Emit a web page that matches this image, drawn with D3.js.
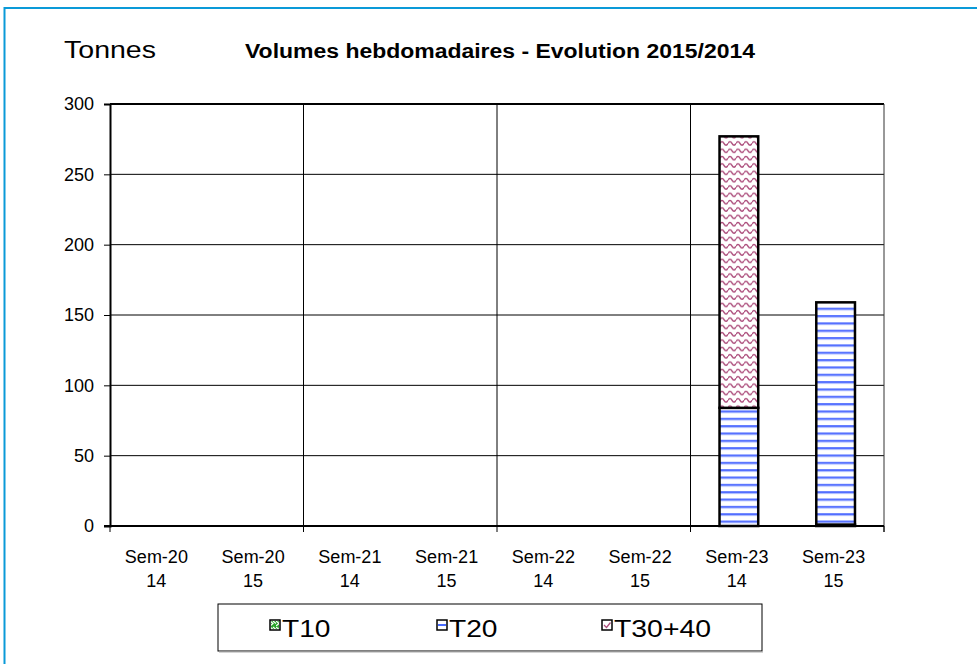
<!DOCTYPE html>
<html lang="fr">
<head>
<meta charset="UTF-8">
<title>Volumes hebdomadaires</title>
<style>
    body { margin: 0; background: #fff; }
    text { font-family: "Liberation Sans", Arial, sans-serif; fill: #000; }
</style>
</head>
<body>
<svg id="chart"></svg>
<script src="https://cdnjs.cloudflare.com/ajax/libs/d3/7.8.5/d3.min.js"></script>
<script>
    var width = 977;
    var height = 664;

    // data
    var weeks = ["Sem-20", "Sem-20", "Sem-21", "Sem-21", "Sem-22", "Sem-22", "Sem-23", "Sem-23"];
    var years = ["14", "15", "14", "15", "14", "15", "14", "15"];
    var seriesNames = ["T10", "T20", "T30+40"];
    var t10 = [0, 0, 0, 0, 0, 0, 0, 1];
    var t20 = [0, 0, 0, 0, 0, 0, 84, 158];
    var t30 = [0, 0, 0, 0, 0, 0, 193, 0];
    var yTicks = [0, 50, 100, 150, 200, 250, 300];

    var plot = {left: 110, right: 884, top: 104, bottom: 526};

    var svg = d3.select("#chart")
        .attr("width", width)
        .attr("height", height);

    // fill patterns
    var defs = svg.append("defs");
    var p10 = defs.append("pattern").attr("id", "pT10")
        .attr("patternUnits", "userSpaceOnUse").attr("width", 6).attr("height", 6);
    p10.append("rect").attr("width", 6).attr("height", 6).attr("fill", "#2aa52a");
    p10.append("path").attr("d", "M0,1 L3,3.5 L0,6 M3,1 L6,3.5")
        .attr("stroke", "#fff").attr("stroke-width", 1.2).attr("fill", "none");

    var p20 = defs.append("pattern").attr("id", "pT20")
        .attr("patternUnits", "userSpaceOnUse").attr("width", 4).attr("height", 7.34)
        .attr("y", plot.bottom);
    p20.append("rect").attr("width", 4).attr("height", 7.34).attr("fill", "#fff");
    p20.append("rect").attr("y", 2).attr("width", 4).attr("height", 1.6).attr("fill", "#3d5cff");
    p20.append("rect").attr("y", 3.6).attr("width", 4).attr("height", 1.1).attr("fill", "#a9b9ff");

    var p30 = defs.append("pattern").attr("id", "pT30")
        .attr("patternUnits", "userSpaceOnUse").attr("width", 8).attr("height", 7.34);
    p30.append("rect").attr("width", 8).attr("height", 7.34).attr("fill", "#fff");
    p30.append("path").attr("d", "M0,4 Q2,0.5 4,4 T8,4")
        .attr("stroke", "#ad4f7d").attr("stroke-width", 1.5).attr("fill", "none");

    var fills = {"T10": "url(#pT10)", "T20": "url(#pT20)", "T30+40": "url(#pT30)"};

    // outer blue frame
    svg.append("line").attr("x1", 4).attr("x2", width).attr("y1", 8).attr("y2", 8)
        .attr("stroke", "#0a9ad8").attr("stroke-width", 2);
    svg.append("line").attr("x1", 4.5).attr("x2", 4.5).attr("y1", 7).attr("y2", height)
        .attr("stroke", "#0a9ad8").attr("stroke-width", 2);

    // scales
    var x = d3.scaleBand()
        .domain(d3.range(weeks.length))
        .range([plot.left, plot.right])
        .paddingInner(0)
        .paddingOuter(0);
    var y = d3.scaleLinear()
        .domain([0, 300])
        .range([plot.bottom, plot.top]);

    // horizontal gridlines
    svg.append("g")
        .selectAll("line")
        .data(yTicks)
        .join("line")
        .attr("x1", plot.left).attr("x2", plot.right)
        .attr("y1", function(d) { return y(d); })
        .attr("y2", function(d) { return y(d); })
        .attr("stroke", "#000")
        .attr("stroke-width", function(d) { return d === 300 ? 2 : 1; });

    // vertical gridlines between week groups
    var groupEdges = [0, 2, 4, 6];
    svg.append("g")
        .selectAll("line")
        .data(groupEdges.slice(1))
        .join("line")
        .attr("x1", function(d) { return x(d); })
        .attr("x2", function(d) { return x(d); })
        .attr("y1", plot.top).attr("y2", plot.bottom)
        .attr("stroke", "#000").attr("stroke-width", 1);
    svg.append("line")
        .attr("x1", plot.right).attr("x2", plot.right)
        .attr("y1", plot.top).attr("y2", plot.bottom + 6)
        .attr("stroke", "#333").attr("stroke-width", 1);

    // stacked bars
    var rows = weeks.map(function(w, i) {
        return {i: i, "T10": t10[i], "T20": t20[i], "T30+40": t30[i]};
    });
    var stack = d3.stack().keys(seriesNames)(rows);
    var barW = x.bandwidth() * 0.4;

    svg.append("g")
        .selectAll("g")
        .data(stack)
        .join("g")
        .attr("fill", function(s) { return fills[s.key]; })
        .selectAll("rect")
        .data(function(s) { return s.filter(function(d) { return d[1] > d[0]; }); })
        .join("rect")
        .attr("x", function(d) { return x(d.data.i) + (x.bandwidth() - barW) / 2; })
        .attr("width", barW)
        .attr("y", function(d) { return y(d[1]); })
        .attr("height", function(d) { return y(d[0]) - y(d[1]); })
        .attr("stroke", "#000")
        .attr("stroke-width", 2.5);

    // y axis
    var yAxis = svg.append("g")
        .attr("transform", "translate(" + plot.left + ",0)")
        .call(d3.axisLeft(y).tickValues(yTicks).tickSize(6).tickPadding(10));
    yAxis.select(".domain").attr("stroke", "#000").attr("stroke-width", 2);
    yAxis.selectAll(".tick line").attr("stroke", "#000");
    yAxis.selectAll(".tick text")
        .style("font-family", "'Liberation Sans', Arial, sans-serif")
        .style("font-size", "18px").attr("fill", "#000");

    // x axis line and ticks at group edges
    svg.append("line")
        .attr("x1", plot.left - 6).attr("x2", plot.right)
        .attr("y1", plot.bottom).attr("y2", plot.bottom)
        .attr("stroke", "#000").attr("stroke-width", 2);
    svg.append("g")
        .selectAll("line")
        .data(groupEdges.concat([8]))
        .join("line")
        .attr("x1", function(d) { return d === 8 ? plot.right : x(d); })
        .attr("x2", function(d) { return d === 8 ? plot.right : x(d); })
        .attr("y1", plot.bottom).attr("y2", plot.bottom + 6)
        .attr("stroke", "#000").attr("stroke-width", 1);

    // category labels on two lines
    var xl = svg.append("g")
        .selectAll("text")
        .data(weeks)
        .join("text")
        .attr("text-anchor", "middle")
        .style("font-size", "18px")
        .attr("transform", function(d, i) {
            return "translate(" + (x(i) + x.bandwidth() / 2 - 2) + ",0)";
        });
    xl.append("tspan").attr("x", 0).attr("y", 563).text(function(d) { return d; });
    xl.append("tspan").attr("x", 0).attr("y", 587).text(function(d, i) { return years[i]; });

    // titles (the original text is drawn a little wide)
    svg.append("text")
        .attr("x", 64).attr("y", 58)
        .style("font-size", "23px")
        .attr("textLength", 92)
        .attr("lengthAdjust", "spacingAndGlyphs")
        .text("Tonnes");
    svg.append("text")
        .attr("x", 245).attr("y", 58)
        .style("font-size", "20px")
        .style("font-weight", "bold")
        .attr("textLength", 510)
        .attr("lengthAdjust", "spacingAndGlyphs")
        .text("Volumes hebdomadaires - Evolution 2015/2014");

    // legend
    var lg = svg.append("g");
    lg.append("rect")
        .attr("x", 218).attr("y", 604).attr("width", 544).attr("height", 47)
        .attr("fill", "#fff").attr("stroke", "#000").attr("stroke-width", 1);
    lg.append("line")
        .attr("x1", 219).attr("x2", 763).attr("y1", 652).attr("y2", 652)
        .attr("stroke", "#aaa").attr("stroke-width", 1);
    var legX = [270, 437, 602];
    var items = lg.selectAll("g.item")
        .data(seriesNames)
        .join("g")
        .attr("class", "item")
        .attr("transform", function(d, i) { return "translate(" + legX[i] + ",620)"; });
    items.append("rect")
        .attr("width", 10).attr("height", 10)
        .attr("fill", "#fff")
        .attr("stroke", "#000").attr("stroke-width", 1.5);
    // little swatch marks that echo each fill
    items.filter(function(d) { return d === "T10"; }).append("rect")
        .attr("x", 1).attr("y", 1).attr("width", 8).attr("height", 8)
        .attr("fill", fills["T10"]);
    items.filter(function(d) { return d === "T20"; }).append("rect")
        .attr("x", 1).attr("y", 4).attr("width", 8).attr("height", 2)
        .attr("fill", "#4a6cff");
    items.filter(function(d) { return d === "T30+40"; }).append("path")
        .attr("d", "M2,5 L4.5,7.5 L8.5,2.5")
        .attr("stroke", "#ad4f7d").attr("stroke-width", 1.3).attr("fill", "none");
    items.append("text")
        .attr("x", 12).attr("y", 17)
        .style("font-size", "23px")
        .attr("textLength", function(d) { return d.length * 14.5 + (d.length > 3 ? 10 : 5); })
        .attr("lengthAdjust", "spacingAndGlyphs")
        .text(function(d) { return d; });
</script>
</body>
</html>
